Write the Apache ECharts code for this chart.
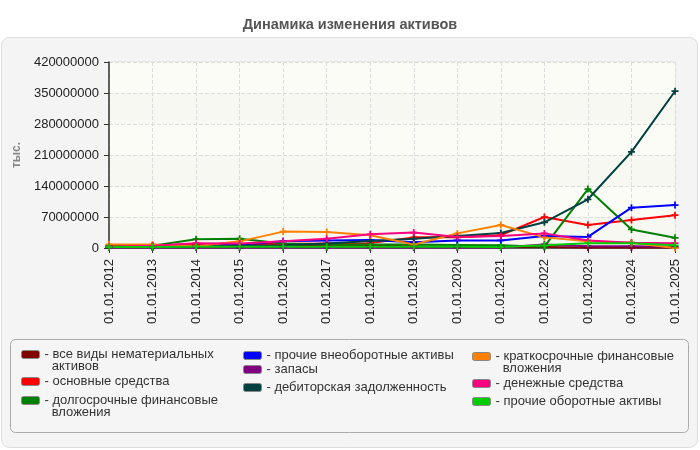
<!DOCTYPE html>
<html>
<head>
<meta charset="utf-8">
<script src="https://cdn.jsdelivr.net/npm/echarts@6/dist/echarts.min.js"></script>
<style>
html,body{margin:0;padding:0;background:#fff;}
#chart{width:700px;height:450px;}
</style>
</head>
<body>
<div id="chart"></div>
<script>
const categories = ['01.01.2012','01.01.2013','01.01.2014','01.01.2015','01.01.2016','01.01.2017','01.01.2018','01.01.2019','01.01.2020','01.01.2021','01.01.2022','01.01.2023','01.01.2024','01.01.2025'];
const yTicks = [0, 70000000, 140000000, 210000000, 280000000, 350000000, 420000000];

const nematerialnye   = [2000000,2000000,6000000,6000000,6000000,5000000,5000000,4000000,3000000,2000000,2000000,1000000,1000000,1000000];
const osnovnye        = [5000000,5000000,9000000,9000000,9000000,10000000,11000000,24000000,24000000,29000000,70000000,52000000,63000000,74000000];
const dolgosrochnye   = [4000000,5000000,20000000,21000000,10000000,8000000,8000000,8000000,7000000,6000000,3000000,133000000,42000000,23000000];
const prochieVneob    = [2000000,3000000,5000000,8000000,15000000,17000000,18000000,13000000,17000000,17000000,27000000,25000000,91000000,97000000];
const zapasy          = [1000000,1000000,1000000,1000000,1000000,1000000,1000000,1000000,1000000,1000000,8000000,4000000,4000000,3000000];
const debitorskaya    = [3000000,3000000,5000000,5000000,6000000,10000000,16000000,21000000,27000000,34000000,58000000,110000000,217000000,354000000];
const kratkosrochnye  = [8000000,8000000,4000000,15000000,37000000,36000000,29000000,8000000,33000000,52000000,24000000,15000000,12000000,0];
const denezhnye       = [3000000,5000000,11000000,10000000,15000000,21000000,31000000,35000000,25000000,27000000,33000000,17000000,12000000,11000000];
const prochieOborot   = [2000000,2000000,3000000,3000000,3000000,3000000,3000000,3000000,3000000,2000000,6000000,11000000,11000000,6000000];

const seriesDefs = [
  {name:'все виды нематериальных активов', label:'- все виды нематериальных\n  активов', data:nematerialnye, color:'#800000'},
  {name:'основные средства', label:'- основные средства', data:osnovnye, color:'#ff0000'},
  {name:'долгосрочные финансовые вложения', label:'- долгосрочные финансовые\n  вложения', data:dolgosrochnye, color:'#008000'},
  {name:'прочие внеоборотные активы', label:'- прочие внеоборотные активы', data:prochieVneob, color:'#0000ff'},
  {name:'запасы', label:'- запасы', data:zapasy, color:'#800080'},
  {name:'дебиторская задолженность', label:'- дебиторская задолженность', data:debitorskaya, color:'#004040'},
  {name:'краткосрочные финансовые вложения', label:'- краткосрочные финансовые\n  вложения', data:kratkosrochnye, color:'#ff8000'},
  {name:'денежные средства', label:'- денежные средства', data:denezhnye, color:'#ff0080'},
  {name:'прочие оборотные активы', label:'- прочие оборотные активы', data:prochieOborot, color:'#00cc00'}
];

// legend placement (left, top) per item
const legendPos = [
  [21, 336], [21, 375], [21, 382],
  [243, 349], [243, 363], [243, 381],
  [472, 338], [472, 377], [472, 395]
];

const FONT = '"Liberation Sans", Arial, sans-serif';
const plus = 'path://M3,0H5V3H8V5H5V8H3V5H0V3H3Z';

const chart = echarts.init(document.getElementById('chart'));

const legends = seriesDefs.map((s, i) => {
  const twoLine = s.label.indexOf('\n') >= 0;
  return {
    data: [s.name],
    left: legendPos[i][0],
    top: legendPos[i][1],
    orient: 'vertical',
    padding: 0,
    icon: 'roundRect',
    itemWidth: 18,
    itemHeight: 8,
    itemStyle: {borderColor: '#888', borderWidth: 1},
    selectedMode: false,
    formatter: () => (twoLine ? '\n' : '') + s.label,
    textStyle: {fontFamily: FONT, fontSize: 13, color: '#333', lineHeight: 12}
  };
});

const option = {
  animation: false,
  backgroundColor: '#ffffff',
  title: {
    text: 'Динамика изменения активов',
    left: 'center',
    top: 12,
    textStyle: {fontFamily: FONT, fontSize: 14.5, fontWeight: 'bold', color: '#555'}
  },
  graphic: [
    {type:'rect', z:-10, shape:{x:1.5, y:37.5, width:696, height:410, r:8}, style:{fill:'#f4f4f4', stroke:'#dddddd', lineWidth:1}},
    {type:'rect', z:-9, shape:{x:10.5, y:339.5, width:678, height:93, r:5}, style:{fill:'#f5f5f5', stroke:'#aaaaaa', lineWidth:1}}
  ],
  legend: legends,
  grid: {
    left: 109, right: 25, top: 62, bottom: 202,
    show: true, backgroundColor: '#fcfcf7', borderColor: '#dddddd', borderWidth: 1
  },
  xAxis: {
    type: 'category',
    data: categories,
    boundaryGap: false,
    axisLine: {lineStyle: {color: '#333', width: 1.5}},
    axisTick: {show: true, length: 5, lineStyle: {color: '#333'}},
    axisLabel: {rotate: 90, fontFamily: FONT, fontSize: 13, color: '#222', margin: 11},
    splitLine: {show: true, lineStyle: {color: '#dddddd', type: 'dashed'}}
  },
  yAxis: {
    type: 'value',
    min: yTicks[0],
    max: yTicks[yTicks.length - 1],
    interval: yTicks[1] - yTicks[0],
    name: 'тыс.',
    nameLocation: 'middle',
    nameRotate: 90,
    nameGap: 84,
    nameTextStyle: {fontFamily: FONT, fontSize: 12, fontWeight: 'bold', color: '#888'},
    axisLine: {show: true, lineStyle: {color: '#333', width: 1.5}},
    axisTick: {show: true, length: 5, lineStyle: {color: '#333'}},
    axisLabel: {fontFamily: FONT, fontSize: 13, color: '#222', margin: 10, formatter: v => String(v)},
    splitLine: {show: true, lineStyle: {color: '#dddddd', type: 'dashed'}},
    splitArea: {show: true, areaStyle: {color: ['#f8f8f2', '#fcfcf7']}}
  },
  series: seriesDefs.map(s => ({
    name: s.name,
    type: 'line',
    data: s.data,
    color: s.color,
    lineStyle: {width: 2, color: s.color},
    itemStyle: {color: s.color},
    symbol: plus,
    symbolSize: 7,
    showSymbol: true
  }))
};

chart.setOption(option);
</script>
</body>
</html>
